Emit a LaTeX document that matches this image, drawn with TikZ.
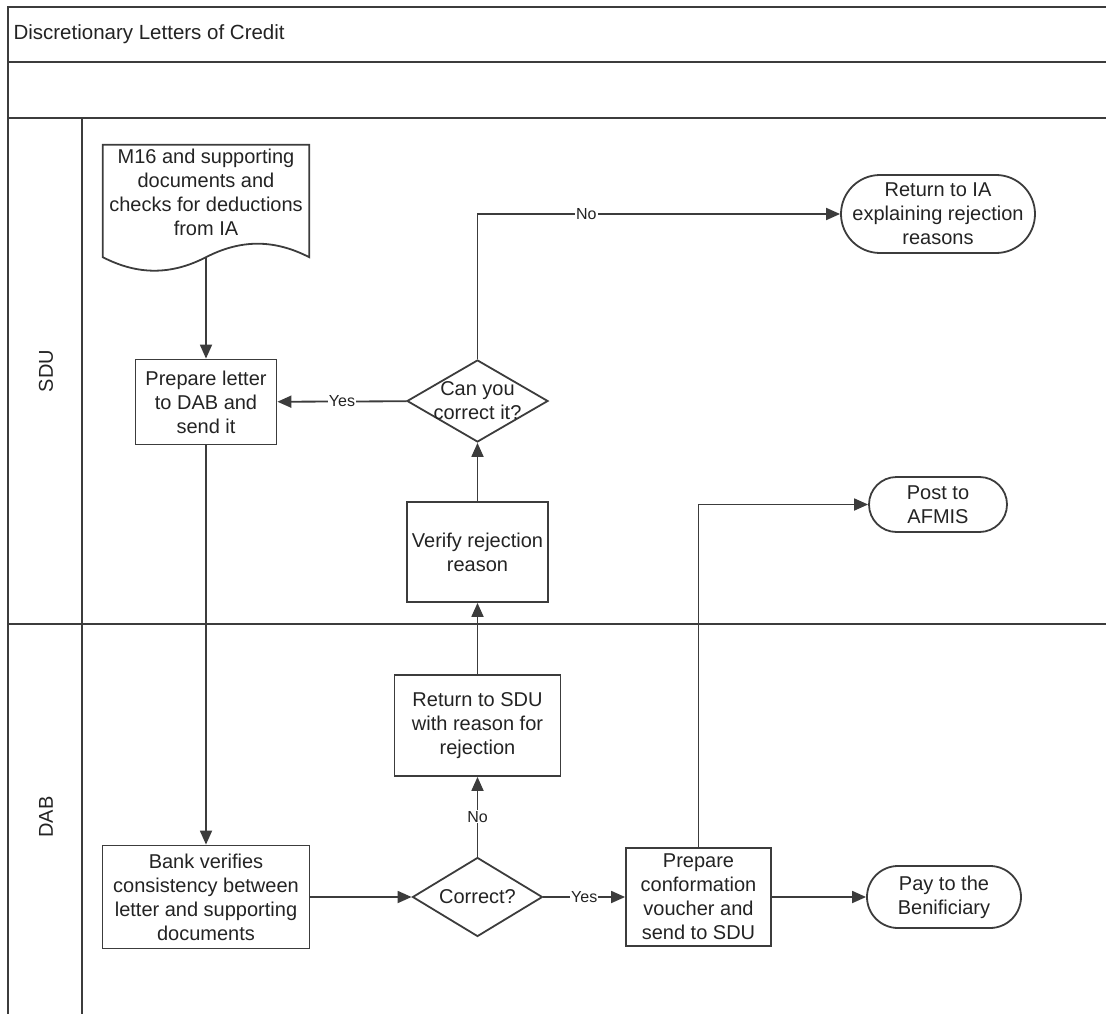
\documentclass[tikz,border=0pt]{standalone}
\usepackage{fontspec}
\setmainfont{Liberation Sans}
\usetikzlibrary{positioning, arrows.meta, shapes.geometric, shapes.misc}
\definecolor{linegray}{RGB}{60,60,60}
\definecolor{textgray}{RGB}{35,35,35}

\begin{document}
\begin{tikzpicture}[x=1pt, y=-1pt,
        every node/.style={text=textgray, font=\fontsize{20}{24}\selectfont},
        process/.style={rectangle, draw=linegray, line width=1.8pt, align=center, inner sep=1pt},
        decision/.style={diamond, draw=linegray, line width=1.8pt, inner sep=0pt},
        terminal/.style={rounded rectangle, draw=linegray, line width=1.8pt, inner sep=0pt},
        lbl/.style={fill=white, inner sep=1pt, font=\fontsize{16}{18}\selectfont},
        line/.style={draw=linegray, line width=1.8pt},
        arr/.style={line, -{Triangle[length=14pt, width=12pt]}},
        frame/.style={draw=linegray, line width=2pt}]

        \useasboundingbox (0,0) rectangle (1106,1014);

        % pool and lanes
        \draw[frame] (8,1014) -- (8,7) -- (1106,7);
        \draw[frame] (8,62) -- (1106,62) (8,118) -- (1106,118) (8,624) -- (1106,624) (82,118) -- (82,1014);

        \node[anchor=west, font=\fontsize{20.5}{24}\selectfont] (title) at (10,34) {Discretionary Letters of Credit};
        \node[rotate=90] (sdu) at (46,371) {SDU};
        \node[rotate=90] (dab) at (46,817) {DAB};

        % SDU
        \node[minimum width=206pt, minimum height=112pt, inner sep=0pt,
            label={[align=center, yshift=9pt]center:M16 and supporting\\documents and\\checks for deductions\\from IA}] (m16) at (206,201) {};
        \draw[line] (m16.south west) -- (m16.north west) -- (m16.north east) -- (m16.south east)
            .. controls +(-35,-18) and +(35,-18) .. (m16.south)
            .. controls +(-35,18) and +(35,18) .. (m16.south west) -- cycle;

        \node[process, minimum width=141pt, minimum height=85pt] (prep) at (206,402) {Prepare letter\\to DAB and\\send it};
        \node[decision, minimum width=141pt, minimum height=82pt,
            label={[align=center]center:Can you\\correct it?}] (can) at (477.5,401) {};
        \node[terminal, minimum width=194pt, minimum height=78pt,
            label={[align=center]center:Return to IA\\explaining rejection\\reasons}] (ia) at (938,214) {};
        \node[process, minimum width=141pt, minimum height=100pt] (verify) at (477.5,552) {Verify rejection\\reason};
        \node[terminal, minimum width=138pt, minimum height=55pt,
            label={[align=center]center:Post to\\AFMIS}] (afmis) at (938,504.5) {};

        % DAB
        \node[process, minimum width=166pt, minimum height=101pt] (ret) at (477.5,725.5) {Return to SDU\\with reason for\\rejection};
        \node[process, minimum width=207pt, minimum height=103pt] (bank) at (206,897) {Bank verifies\\consistency between\\letter and supporting\\documents};
        \node[decision, minimum width=130pt, minimum height=79pt,
            label={center:Correct?}] (ok) at (477.5,897) {};
        \node[process, minimum width=145pt, minimum height=98pt] (conf) at (698.5,897) {Prepare\\conformation\\voucher and\\send to SDU};
        \node[terminal, minimum width=154pt, minimum height=62pt,
            label={[align=center]center:Pay to the\\Benificiary}] (pay) at (944,897) {};

        \path
            (m16.south) edge[arr] (prep)
            (prep) edge[arr] (bank)
            (bank) edge[arr] (ok)
            (ok) edge[arr] node[lbl]{No} (ret)
            (ret) edge[arr] (verify)
            (verify) edge[arr] (can)
            (can) edge[arr] node[lbl]{Yes} (prep)
            (ok) edge[arr] node[lbl]{Yes} (conf)
            (conf) edge[arr] (pay)
            ;
        \draw[arr] (can) |- node[lbl, pos=0.65]{No} (ia);
        \draw[arr] (conf) |- (afmis);
    \end{tikzpicture}
\end{document}
